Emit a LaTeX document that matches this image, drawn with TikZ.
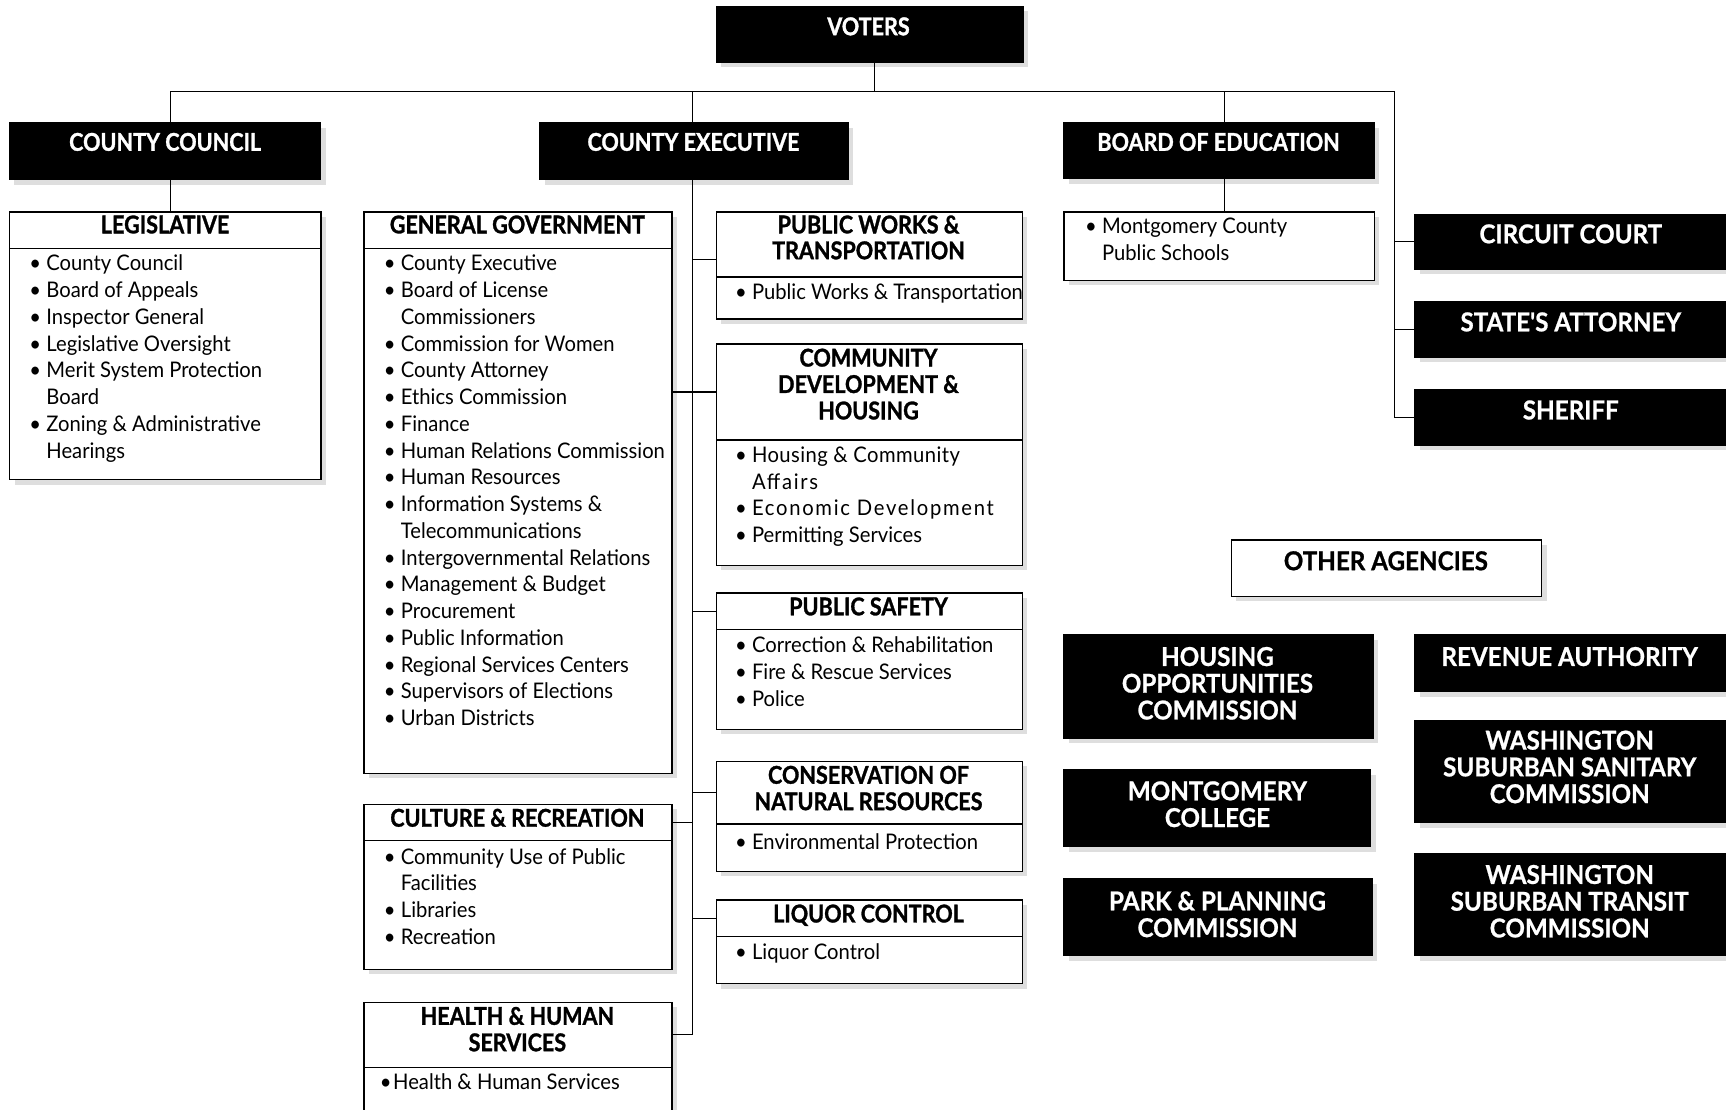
\documentclass[tikz,border=0pt]{standalone}
\usepackage{fontspec}
\usetikzlibrary{calc,shadows}
\newfontfamily\bodyfont{Lato}[FakeStretch=0.94]
\newfontfamily\hdfont{Lato}[FakeStretch=0.88, BoldFeatures={FakeBold=1.2}]
\newfontfamily\bgfont{Lato}[FakeStretch=0.93, BoldFeatures={FakeBold=0.8}]
\newcommand\bul{\llap{\makebox[17pt][l]{\textbullet}}}
\newcommand\LSp[2]{{\addfontfeature{LetterSpace=#1}#2}}
\newcommand\bx[6]{\node[#1, anchor=north west, minimum width={(#5-#3)*1.1008pt}, minimum height={(#6-#4)*1.1008pt}] (#2) at (#3,#4) {};}
\newcommand\tlines[6]{\foreach \t [count=\i] in {#6} {\node[#4] (#1-\i) at (#2,{#3+(\i-1)*#5}) {\t};}}
\tikzset{
  shd/.style={drop shadow={shadow xshift=5pt, shadow yshift=-5pt, fill=black!13, opacity=1}},
  blk/.style={fill=black, draw=black, line width=1pt, inner sep=0pt, shd},
  wbx/.style={fill=white, draw=black, line width=1.4pt, inner sep=0pt, shd},
  con/.style={line width=1.1pt},
  bt/.style={font=\bodyfont\fontsize{21.5}{26.75}\selectfont, inner sep=0pt, anchor=base west},
  ht/.style={font=\hdfont\bfseries\fontsize{24.5}{26.75}\selectfont, inner sep=0pt, anchor=base},
  wt/.style={ht, text=white},
  bg/.style={font=\bgfont\bfseries\fontsize{26}{26.75}\selectfont, inner sep=0pt, anchor=base},
  wtb/.style={bg, text=white},
}
\begin{document}
\begin{tikzpicture}[x=1.1008pt, y=-1.1008pt]
\path[use as bounding box, clip] (0,0) rectangle (1568,1008);
\fill[white] (0,0) rectangle (1568,1008);

% ---- black boxes (top) ----
\bx{blk}{voters}{650}{5}{929}{56}
\bx{blk}{cc}{8}{111}{291}{163}
\bx{blk}{ce}{490}{111}{770}{163}
\bx{blk}{boe}{966}{111}{1248}{162}
\bx{blk}{circ}{1285}{194}{1572}{244}
\bx{blk}{sa}{1285}{273}{1572}{324}
\bx{blk}{sher}{1285}{353}{1572}{404}

% ---- white boxes ----
\bx{wbx}{legh}{8}{192}{291}{225}
\bx{wbx}{legb}{8}{225}{291}{435}
\bx{wbx}{ggh}{330}{192}{610}{225}
\bx{wbx}{ggb}{330}{225}{610}{702}
\bx{wbx}{crh}{330}{730}{610}{763}
\bx{wbx}{crb}{330}{763}{610}{880}
\bx{wbx}{hhsh}{330}{910}{610}{969}
\bx{wbx}{hhsb}{330}{969}{610}{1030}
\bx{wbx}{pwh}{650}{192}{928}{251}
\bx{wbx}{pwb}{650}{251}{928}{289}
\bx{wbx}{cdhh}{650}{312}{928}{399}
\bx{wbx}{cdhb}{650}{399}{928}{513}
\bx{wbx}{psh}{650}{538}{928}{571}
\bx{wbx}{psb}{650}{571}{928}{662}
\bx{wbx}{cnrh}{650}{691}{928}{748}
\bx{wbx}{cnrb}{650}{748}{928}{791}
\bx{wbx}{lch}{650}{817}{928}{850}
\bx{wbx}{lcb}{650}{850}{928}{893}
\bx{wbx}{mcps}{966}{192}{1248}{254}
\bx{wbx}{oa}{1118}{490}{1400}{541}

% ---- other agencies (black) ----
\bx{blk}{hoc}{966}{576}{1247}{670}
\bx{blk}{mc}{966}{699}{1245}{769}
\bx{blk}{ppc}{966}{798}{1246}{868}
\bx{blk}{ra}{1285}{576}{1572}{628}
\bx{blk}{wssc}{1285}{654}{1572}{747}
\bx{blk}{wstc}{1285}{775}{1572}{868}

% ---- connectors ----
\coordinate (vb) at ([xshift=5pt]voters.south);
\coordinate (bus) at ($(vb)+(0,26)$);
\coordinate (ccx) at ([xshift=5.5pt]cc.north);
\coordinate (tk) at ([xshift=-1.1pt]ce.south);
\coordinate (bo) at ([xshift=5.5pt]boe.north);
\coordinate (rr) at ([xshift=-19.8pt]sher.west);
\draw[con] (vb) -- (bus);
\draw[con] (ccx |- bus) -- (rr |- bus) -- (rr |- sher.west) -- (sher.west);
\draw[con] (rr |- circ.west) -- (circ.west);
\draw[con] (rr |- sa.west) -- (sa.west);
\draw[con] (ccx |- bus) -- (ccx);
\draw[con] (ccx |- cc.south) -- (ccx |- legh.north);
\draw[con] (tk |- bus) -- (tk |- ce.north);
\draw[con] (tk) -- (tk |- hhsh.east) -- (hhsh.east);
\draw[con] (bo |- bus) -- (bo);
\draw[con] (bo |- boe.south) -- (bo |- mcps.north);
\draw[con] ([yshift=-15.4pt]pwh.west) -- ([yshift=-15.4pt]pwh.west -| tk);
\draw[con] (cdhh.west) -- (cdhh.west -| ggh.east);
\draw[con] (psh.west) -- (psh.west -| tk);
\draw[con] (cnrh.west) -- (cnrh.west -| tk);
\draw[con] (lch.west) -- (lch.west -| tk);
\draw[con] (crh.east) -- (crh.east -| tk);

% ---- texts in black boxes ----
\node[wt] (voters-t) at (789,32) {VOTERS};
\node[wt] (cc-t) at (150,137) {COUNTY COUNCIL};
\node[wt] (ce-t) at (630,137) {COUNTY EXECUTIVE};
\node[wt] (boe-t) at (1107,137) {BOARD OF EDUCATION};
\node[wtb] (circ-t) at (1427,221) {CIRCUIT COURT};
\node[wtb] (sa-t) at (1427,301) {STATE'S ATTORNEY};
\node[wtb] (sher-t) at (1427,381) {SHERIFF};
\tlines{hoc-t}{1106}{605}{wtb}{24.3}{HOUSING, OPPORTUNITIES, COMMISSION}
\tlines{mc-t}{1106}{727}{wtb}{24.3}{MONTGOMERY, COLLEGE}
\tlines{ppc-t}{1106}{827}{wtb}{24.3}{PARK \& PLANNING, COMMISSION}
\node[wtb] (ra-t) at (1426,605) {REVENUE AUTHORITY};
\tlines{wssc-t}{1426}{681}{wtb}{24.3}{WASHINGTON, SUBURBAN SANITARY, COMMISSION}
\tlines{wstc-t}{1426}{803}{wtb}{24.3}{WASHINGTON, SUBURBAN TRANSIT, COMMISSION}

% ---- headers in white boxes ----
\node[ht] (leg-t) at (150,212) {LEGISLATIVE};
\node[ht] (gg-t) at (470,212) {GENERAL GOVERNMENT};
\node[ht] (cr-t) at (470,751) {CULTURE \& RECREATION};
\tlines{hhs-t}{470}{931}{ht}{24}{HEALTH \& HUMAN, SERVICES}
\tlines{pw-t}{789}{212}{ht}{23.5}{PUBLIC WORKS \&, TRANSPORTATION}
\tlines{cdh-t}{789}{333}{ht}{24}{COMMUNITY, DEVELOPMENT \&, HOUSING}
\node[ht] (ps-t) at (789,559) {PUBLIC SAFETY};
\tlines{cnr-t}{789}{712}{ht}{24}{CONSERVATION OF, NATURAL RESOURCES}
\node[ht] (lc-t) at (789,838) {LIQUOR CONTROL};
\node[bg] (oa-t) at (1259,518) {OTHER AGENCIES};

% ---- body lists ----
\tlines{leg-i}{42}{246}{bt}{24.3}{\bul County Council, \bul Board of Appeals, \bul Inspector General, \bul Legislative Oversight, \bul Merit System Protection, Board, \bul Zoning \& Administrative, Hearings}
\tlines{gg-i}{364}{246}{bt}{24.3}{\bul County Executive, \bul Board of License, Commissioners, \bul Commission for Women, \bul County Attorney, \bul Ethics Commission, \bul Finance, \bul Human Relations Commission, \bul Human Resources, \bul Information Systems \&, Telecommunications, \bul Intergovernmental Relations, \bul Management \& Budget, \bul Procurement, \bul Public Information, \bul Regional Services Centers, \bul Supervisors of Elections, \bul Urban Districts}
\tlines{cr-i}{364}{785}{bt}{24.3}{\bul Community Use of Public, Facilities, \bul Libraries, \bul Recreation}
\node[bt] (hhs-i) at (357,990) {\llap{\textbullet\hspace{1.5pt}}Health \& Human Services};
\tlines{pw-i}{683}{272}{bt}{24.3}{\bul Public Works \& Transportation}
\tlines{cdh-i}{683}{420}{bt}{24.3}{\bul \LSp{2}{Housing \& Community}, \LSp{8}{Affairs}, \bul \LSp{8}{Economic Development}, \bul Permitting Services}
\tlines{ps-i}{683}{593}{bt}{24.3}{\bul Correction \& Rehabilitation, \bul Fire \& Rescue Services, \bul Police}
\tlines{cnr-i}{683}{772}{bt}{24.3}{\bul Environmental Protection}
\tlines{lc-i}{683}{872}{bt}{24.3}{\bul Liquor Control}
\tlines{mcps-i}{1001}{212}{bt}{24.3}{\bul Montgomery County, Public Schools}
\end{tikzpicture}
\end{document}
